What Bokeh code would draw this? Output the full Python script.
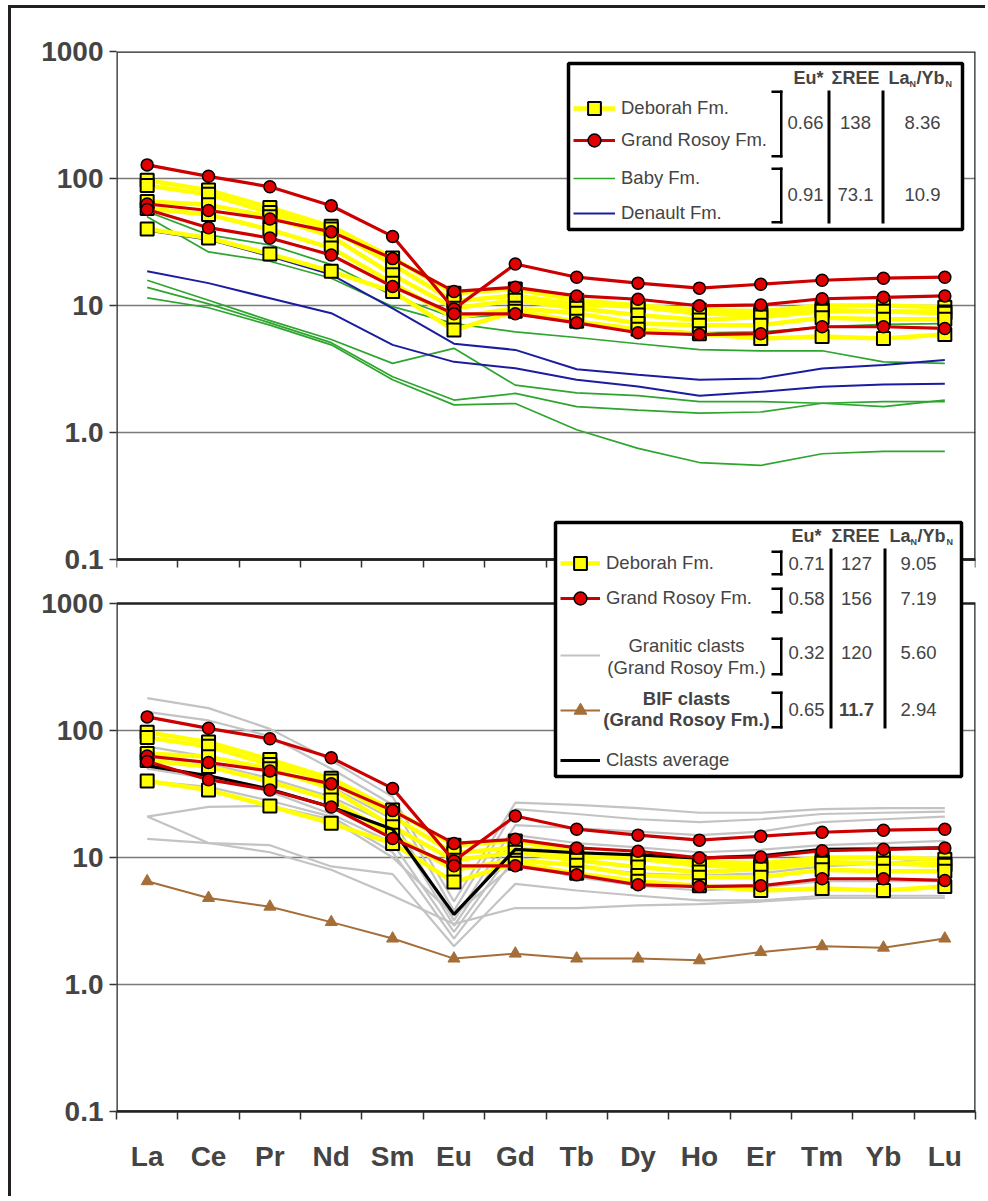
import math
from bokeh.plotting import figure
from bokeh.models import (Range1d, LogScale, LogAxis, LinearAxis, FixedTicker, Grid,
                          BoxAnnotation, Label, Legend, LegendItem)
from bokeh.core.properties import value
from bokeh.embed import file_html
from bokeh.resources import INLINE

# ---------------- data ----------------
ELEMENTS = ["La", "Ce", "Pr", "Nd", "Sm", "Eu", "Gd", "Tb", "Dy", "Ho", "Er", "Tm", "Yb", "Lu"]
Y_TICKS = [0.1, 1, 10, 100, 1000]
Y_TICK_LABELS = ["0.1", "1.0", "10", "100", "1000"]

DEBORAH = [
    [97, 81, 59, 42, 23.7, 12.5, 13.5, 11.0, 10.0, 9.2, 9.0, 10.0, 10.0, 9.7],
    [88, 75, 54, 40, 21.0, 10.8, 12.0, 10.2, 9.8, 8.6, 8.5, 9.2, 9.0, 8.9],
    [66, 62, 50, 35, 17.5, 9.5, 11.0, 9.5, 8.4, 7.7, 8.1, 9.0, 9.0, 8.7],
    [58, 52, 39.6, 28.4, 15.0, 8.0, 9.5, 8.7, 7.2, 7.0, 7.0, 8.0, 7.8, 7.8],
    [40, 34, 25.4, 18.6, 12.9, 6.4, 9.0, 7.5, 6.5, 6.0, 5.5, 5.7, 5.5, 5.9],
]
GRAND_ROSOY = [
    [128, 104, 86, 61, 35, 9.4, 21.2, 16.7, 15.0, 13.7, 14.7, 15.8, 16.4, 16.7],
    [63, 56, 48, 38, 23.4, 12.9, 13.9, 11.9, 11.2, 9.95, 10.1, 11.3, 11.6, 11.9],
    [57, 41, 34, 25, 14.1, 8.6, 8.6, 7.3, 6.1, 5.9, 6.0, 6.8, 6.8, 6.6],
]
BABY = [
    [55, 36, 30, 21, 12, 8.0, 8.5, 7.3, 6.6, 6.1, 6.2, 6.8, 7.1, 7.2],
    [50, 26.4, 22.3, 16.4, 9.8, 7.2, 6.2, 5.6, 5.0, 4.5, 4.4, 4.4, 3.6, 3.5],
    [15.8, 11, 7.6, 5.4, 3.5, 4.6, 2.36, 2.05, 1.95, 1.75, 1.75, 1.7, 1.6, 1.8],
    [13.9, 10.3, 7.3, 5.1, 2.75, 1.8, 2.03, 1.6, 1.5, 1.42, 1.45, 1.7, 1.75, 1.75],
    [11.5, 9.6, 7.0, 4.9, 2.6, 1.65, 1.69, 1.05, 0.75, 0.58, 0.55, 0.68, 0.71, 0.71],
]
DENAULT = [
    [39, 33, 24.4, 17.5, 9.5, 5.0, 4.47, 3.15, 2.85, 2.6, 2.66, 3.19, 3.4, 3.72],
    [18.6, 15, 11.4, 8.7, 4.9, 3.6, 3.2, 2.6, 2.3, 1.95, 2.09, 2.29, 2.39, 2.42],
]
GRANITIC = [
    [180, 150, 103, 58, 30, 4.5, 27, 26, 24.5, 22.5, 22.5, 24, 24.5, 24.5],
    [140, 120, 90, 50, 26, 3.8, 24, 22, 20, 19, 20, 22, 22.5, 23],
    [75, 62, 48, 36, 20, 3.2, 18, 17, 16, 15, 16, 19, 20, 21],
    [62, 55, 42, 30, 18, 2.9, 15, 13, 12, 11, 11.5, 12.5, 13, 13.5],
    [50, 42, 33, 22, 13, 2.6, 12, 11, 10.5, 10, 10.5, 11.5, 12, 12],
    [40, 36, 28, 21, 11, 2.3, 10, 8.5, 7.5, 7.2, 7.5, 8.5, 9, 10],
    [21, 25, 25.5, 20, 10, 3.5, 9, 7, 6, 5.5, 5.8, 6.5, 6.5, 6.5],
    [14, 13, 12.5, 8.5, 7.4, 2.0, 6.2, 5.5, 5, 4.6, 4.6, 5, 5, 5],
    [21, 13, 11, 8, 5, 3.0, 4.0, 4, 4.2, 4.3, 4.5, 4.8, 4.8, 4.8],
]
BIF = [6.5, 4.8, 4.1, 3.1, 2.3, 1.6, 1.75, 1.6, 1.6, 1.55, 1.8, 2.0, 1.95, 2.3]
CLASTS_AVG = [52.7, 44, 34.5, 25, 16.7, 3.57, 11.6, 10.9, 10.5, 9.9, 10.3, 11.6, 11.7, 11.9]

TOP_STAT_HEAD = ["Eu*", "\u03a3REE"]
TOP_STATS = [["0.66", "138", "8.36"], ["0.91", "73.1", "10.9"]]
BOT_STATS = [["0.71", "127", "9.05"], ["0.58", "156", "7.19"],
             ["0.32", "120", "5.60"], ["0.65", "11.7", "2.94"]]

# ---------------- layout (page pixels) ----------------
FONT = "Liberation Sans"
OX, OY = 11, 8            # canvas origin on the page (after the outer frame border)
PAGE_R, PAGE_B = 988, 1199
W, H = PAGE_R - OX, PAGE_B - OY
FL, FR, FT, FB = 116, 975, 51, 1111
PANEL_H, GAP = 508, 44
DEC = 4.0
SHIFT = 10 ** (-DEC * (PANEL_H + GAP) / PANEL_H)   # bottom panel -> top-range coordinates
top_lo = 0.1 * SHIFT
bot_hi = 1000 / SHIFT

YELLOW = "#FFFF00"
RED_LINE = "#CC0000"
RED_FILL = "#E00000"
GREEN = "#2EA52E"
BLUE = "#1C1CA0"
GRAY = "#C3C3C3"
BROWN = "#A56E38"

p = figure(width=W, height=H, x_range=Range1d(0, 14), y_range=Range1d(top_lo, 1000),
           y_axis_type="log", x_axis_location=None, y_axis_location=None,
           output_backend="svg", toolbar_location=None,
           min_border_left=FL - OX, min_border_right=PAGE_R - FR,
           min_border_top=FT - OY, min_border_bottom=PAGE_B - FB,
           outline_line_color=None, background_fill_color="white",
           border_fill_color="white")
# outer page frame: only its left and top edges are inside the page
p.styles = {"margin-left": "8px", "margin-top": "5px",
            "border-left": "3px solid #231f20", "border-top": "3px solid #231f20"}
for g in p.grid:
    g.visible = False
p.extra_y_ranges = {"bot": Range1d(0.1, bot_hi)}
p.extra_y_scales = {"bot": LogScale()}

X = [i + 0.5 for i in range(len(ELEMENTS))]

for rn in ("default", "bot"):
    p.add_layout(Grid(dimension=1, ticker=FixedTicker(ticks=[1, 10, 100]), y_range_name=rn,
                      grid_line_color="#7a7a7a", grid_line_width=1.5))


def kw(rn):
    return {} if rn == "default" else {"y_range_name": rn}


def draw_deb(rn):
    yl = [p.line(X, s, line_color=YELLOW, line_width=4.5, **kw(rn)) for s in DEBORAH]
    ys = [p.scatter(X, s, marker="square", size=13, fill_color=YELLOW, line_color="black",
                    line_width=2, **kw(rn)) for s in DEBORAH]
    return yl, ys


def draw_red(rn):
    rl = [p.line(X, s, line_color=RED_LINE, line_width=3.2, **kw(rn)) for s in GRAND_ROSOY]
    rs = [p.scatter(X, s, marker="circle", size=12, fill_color=RED_FILL, line_color="black",
                    line_width=1.5, **kw(rn)) for s in GRAND_ROSOY]
    return rl, rs


# top panel
baby_r = [p.line(X, s, line_color=GREEN, line_width=1.7) for s in BABY]
den_r = [p.line(X, s, line_color=BLUE, line_width=2) for s in DENAULT]
t_yl, t_ys = draw_deb("default")
t_rl, t_rs = draw_red("default")

# bottom panel
gran_r = [p.line(X, s, line_color=GRAY, line_width=2.2, y_range_name="bot") for s in GRANITIC]
bif_l = p.line(X, BIF, line_color=BROWN, line_width=2, y_range_name="bot")
bif_s = p.scatter(X, BIF, marker="triangle", size=12, fill_color=BROWN, line_color=BROWN,
                  y_range_name="bot")
b_yl, b_ys = draw_deb("bot")
avg_r = p.line(X, CLASTS_AVG, line_color="black", line_width=3.2, y_range_name="bot")
b_rl, b_rs = draw_red("bot")

# panel borders
for rn in ("default", "bot"):
    p.add_layout(BoxAnnotation(left=0, right=14, bottom=0.1, top=1000, fill_color=None,
                               fill_alpha=0, line_color="#222222", line_alpha=1,
                               line_dash="solid", line_width=2.5, **kw(rn)))

# y axis: one left axis labelling both panels
y_ticks_all = Y_TICKS + [v * SHIFT for v in Y_TICKS]
y_over = dict(zip(y_ticks_all, Y_TICK_LABELS + Y_TICK_LABELS))
ya = LogAxis(ticker=FixedTicker(ticks=y_ticks_all), major_label_overrides=y_over,
             major_tick_out=7, major_tick_in=0, minor_tick_out=0, minor_tick_in=0,
             axis_line_color=None, major_tick_line_width=1.5,
             major_tick_line_color="#333333",
             major_label_text_font=FONT, major_label_text_font_style="bold",
             major_label_text_font_size="28px", major_label_standoff=6)
p.add_layout(ya, "left")

xt = FixedTicker(ticks=X, minor_ticks=list(range(len(ELEMENTS) + 1)))
xa_top = LinearAxis(ticker=xt, fixed_location=0.1, major_tick_out=0, major_tick_in=0,
                    minor_tick_out=8, minor_tick_in=0, minor_tick_line_width=1.5,
                    minor_tick_line_color="#333333", axis_line_width=2.5,
                    axis_line_color="#222222",
                    major_label_text_alpha=0, major_label_text_font_size="1px")
p.add_layout(xa_top, "below")
xa_bot = LinearAxis(ticker=xt, major_tick_out=0, major_tick_in=0,
                    minor_tick_out=8, minor_tick_in=0, minor_tick_line_width=1.5,
                    minor_tick_line_color="#333333", axis_line_width=2.5,
                    axis_line_color="#222222",
                    major_label_overrides=dict(zip(X, ELEMENTS)),
                    major_label_text_font=FONT, major_label_text_font_style="bold",
                    major_label_text_font_size="28px", major_label_standoff=21)
p.add_layout(xa_bot, "below")


# ---------------- legend helpers (screen coords relative to frame) ----------------
def sx(px):
    return px - FL


def sy(py):
    return FB - py


def box(x0, y0, x1, y1, fill=None, line=None, lw=0):
    p.add_layout(BoxAnnotation(left=sx(x0), right=sx(x1), top=sy(y0), bottom=sy(y1),
                               left_units="screen", right_units="screen",
                               top_units="screen", bottom_units="screen",
                               fill_color=fill, fill_alpha=1 if fill else 0,
                               line_color=line, line_alpha=1 if line else 0,
                               line_dash="solid", line_width=lw, level="overlay"))


def bar(x0, y0, x1, y1):
    box(x0, y0, x1, y1, fill="black")


def bracket(xr, y0, y1, arm=11, t=2.5):
    bar(xr - t, y0, xr, y1)
    bar(xr - arm, y0, xr, y0 + t)
    bar(xr - arm, y1 - t, xr, y1)


def text(px, py, s, size="18.5px", bold=False, align="center", baseline="middle"):
    p.add_layout(Label(x=sx(px), y=sy(py), x_units="screen", y_units="screen", text=s,
                       text_font=FONT, text_font_size=size,
                       text_font_style="bold" if bold else "normal",
                       text_align=align, text_baseline=baseline, level="overlay"))


def legend(renderers, label, px, cy, gw=42, gh=32, bold=False):
    p.add_layout(Legend(items=[LegendItem(label=value(label), renderers=renderers)],
                        location=(sx(px), sy(cy) - gh / 2), orientation="vertical",
                        padding=0, margin=0, spacing=0, glyph_width=gw, glyph_height=gh,
                        label_standoff=6, border_line_color=None,
                        background_fill_alpha=0, label_text_font=FONT,
                        label_text_font_size="18.5px",
                        label_text_font_style="bold" if bold else "normal",
                        level="overlay"))


def header(y, xe, xs, xl):
    text(xe, y, TOP_STAT_HEAD[0], size="18px", bold=True)
    text(xs, y, TOP_STAT_HEAD[1], size="18px", bold=True)
    text(xl, y, "La", size="18px", bold=True, align="left")
    text(xl + 21, y + 6, "N", size="9px", bold=True, align="left")
    text(xl + 28, y, "/Yb", size="18px", bold=True, align="left")
    text(xl + 57, y + 6, "N", size="9px", bold=True, align="left")


# ---- top legend ----
box(568, 63, 962, 229, fill="white", line="black", lw=3.5)
header(77, 808, 855, 888)
bracket(782, 90, 157)
bracket(782, 167, 223)
bar(827, 90, 830, 223)
bar(881, 90, 884, 223)
for row, yc in zip(TOP_STATS, [122, 194]):
    text(805, yc, row[0])
    text(855, yc, row[1])
    text(922, yc, row[2])
legend([t_yl[0], t_ys[0]], "Deborah Fm.", 573, 108)
legend([t_rl[0], t_rs[0]], "Grand Rosoy Fm.", 573, 140)
legend([baby_r[0]], "Baby Fm.", 573, 178)
legend([den_r[0]], "Denault Fm.", 573, 213)

# ---- bottom legend ----
box(555, 522, 961, 776, fill="white", line="black", lw=3.5)
header(535, 806, 855, 889)
bracket(782, 550, 575)
bracket(782, 587, 613)
bracket(782, 637, 675)
bracket(782, 691, 728)
bar(829, 548, 832, 728)
bar(883, 548, 886, 728)
for i, (row, yc) in enumerate(zip(BOT_STATS, [563, 598, 652, 709])):
    text(806, yc, row[0])
    text(856, yc, row[1], bold=(i == 3))
    text(918, yc, row[2])
legend([b_yl[0], b_ys[0]], "Deborah Fm.", 560, 563, gw=40)
legend([b_rl[0], b_rs[0]], "Grand Rosoy Fm.", 560, 598, gw=40)
legend([gran_r[0]], " ", 560, 655, gw=40)
text(686, 645, "Granitic clasts")
text(686, 667, "(Grand Rosoy Fm.)")
legend([bif_l, bif_s], " ", 560, 710, gw=40)
text(686, 698, "BIF clasts", bold=True)
text(686, 719, "(Grand Rosoy Fm.)", bold=True)
legend([avg_r], "Clasts average", 560, 760, gw=40)

open("out.html", "w").write(file_html(p, INLINE))
